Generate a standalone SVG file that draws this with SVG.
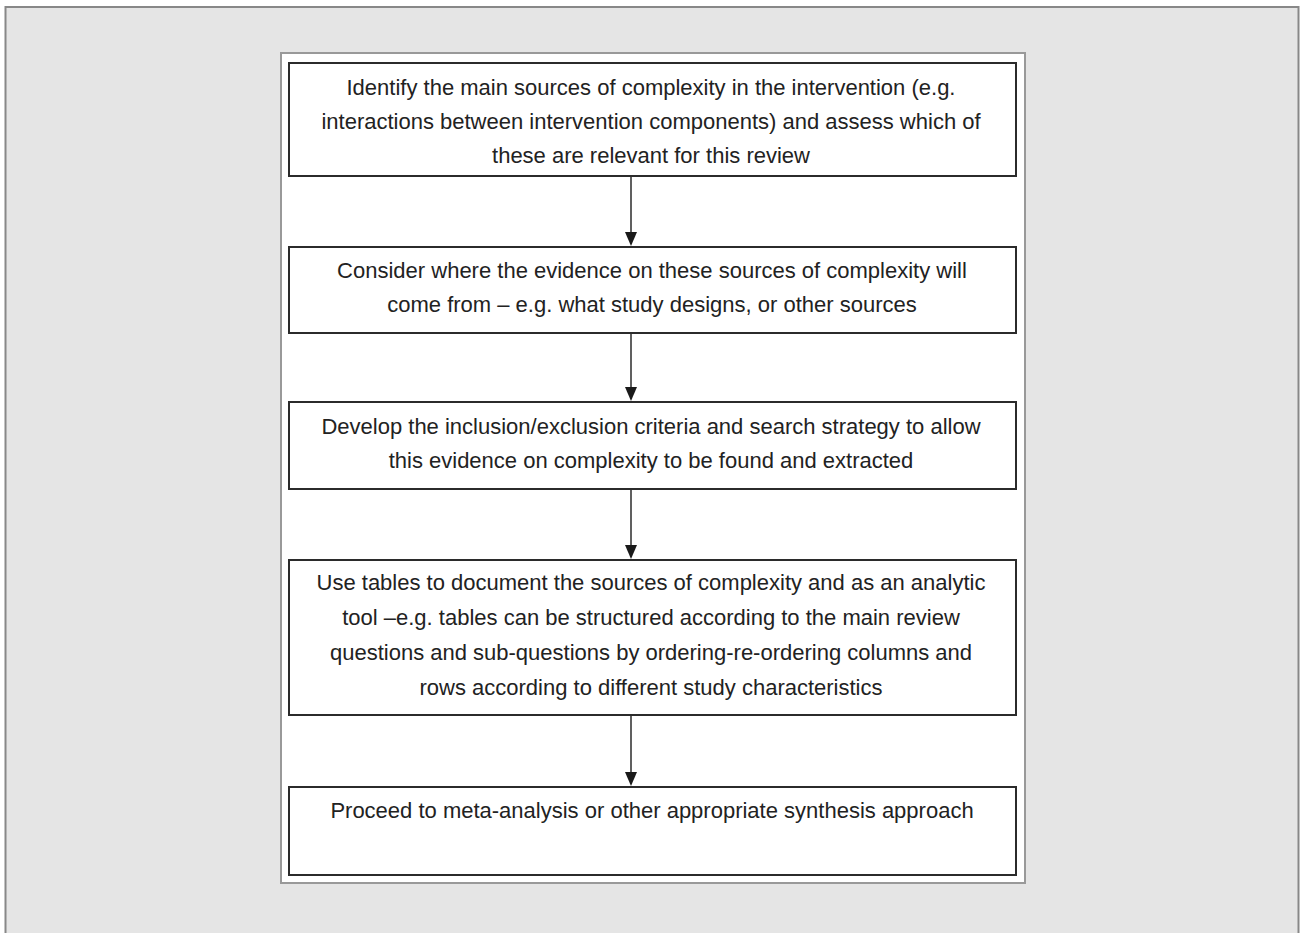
<svg xmlns="http://www.w3.org/2000/svg" width="1301" height="933" viewBox="0 0 1301 933">
<style>
.box{fill:#fff;stroke:#2b2b2b;stroke-width:2}
.t{font-family:"Liberation Sans",Arial,sans-serif;font-size:22px;fill:#222;text-anchor:middle}
.c{stroke:#2b2b2b;stroke-width:1.5;fill:none}
.h{fill:#1a1a1a}
</style>
<rect x="0" y="0" width="1301" height="933" fill="#fff"/>
<rect x="5.5" y="7" width="1293" height="940" fill="#e5e5e5" stroke="#888" stroke-width="2"/>
<rect x="281" y="53" width="744" height="830" fill="#fff" stroke="#999" stroke-width="2"/>
<g id="connectors">
<line class="c" x1="631" y1="177" x2="631" y2="234"/>
<path class="h" d="M625,232 L637,232 L631,246 Z"/>
<line class="c" x1="631" y1="334" x2="631" y2="389"/>
<path class="h" d="M625,387 L637,387 L631,401 Z"/>
<line class="c" x1="631" y1="490" x2="631" y2="547"/>
<path class="h" d="M625,545 L637,545 L631,559 Z"/>
<line class="c" x1="631" y1="716" x2="631" y2="774"/>
<path class="h" d="M625,772 L637,772 L631,786 Z"/>
</g>
<g id="n1">
<rect class="box" x="289" y="63" width="727" height="113"/>
<text class="t" x="651" y="95">Identify the main sources of complexity in the intervention (e.g.</text>
<text class="t" x="651" y="129">interactions between intervention components) and assess which of</text>
<text class="t" x="651" y="163">these are relevant for this review</text>
</g>
<g id="n2">
<rect class="box" x="289" y="247" width="727" height="86"/>
<text class="t" x="652" y="278">Consider where the evidence on these sources of complexity will</text>
<text class="t" x="652" y="312">come from – e.g. what study designs, or other sources</text>
</g>
<g id="n3">
<rect class="box" x="289" y="402" width="727" height="87"/>
<text class="t" x="651" y="434">Develop the inclusion/exclusion criteria and search strategy to allow</text>
<text class="t" x="651" y="468">this evidence on complexity to be found and extracted</text>
</g>
<g id="n4">
<rect class="box" x="289" y="560" width="727" height="155"/>
<text class="t" x="651" y="590">Use tables to document the sources of complexity and as an analytic</text>
<text class="t" x="651" y="625">tool –e.g. tables can be structured according to the main review</text>
<text class="t" x="651" y="660">questions and sub-questions by ordering-re-ordering columns and</text>
<text class="t" x="651" y="695">rows according to different study characteristics</text>
</g>
<g id="n5">
<rect class="box" x="289" y="787" width="727" height="88"/>
<text class="t" x="652" y="818">Proceed to meta-analysis or other appropriate synthesis approach</text>
</g>
</svg>
